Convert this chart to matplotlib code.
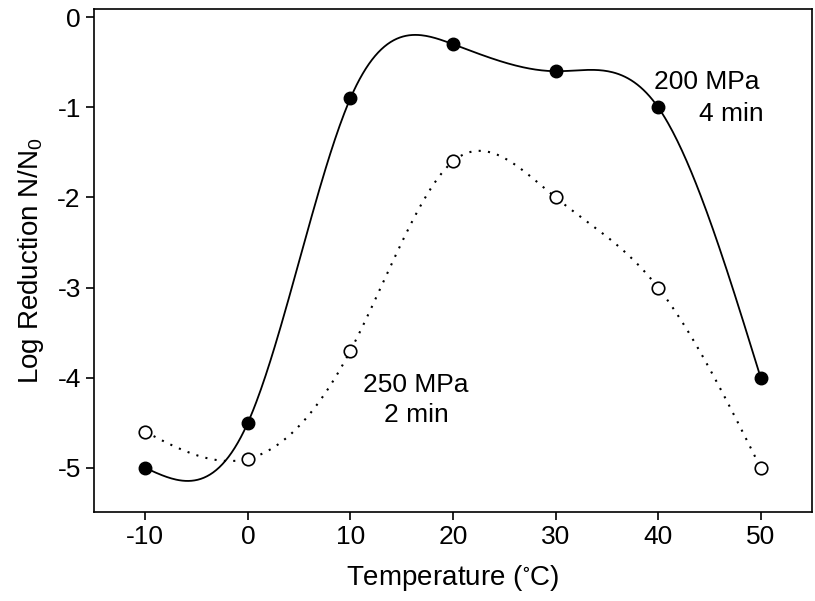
import numpy as np
import matplotlib.pyplot as plt
import matplotlib as mpl

mpl.rcParams['font.family'] = ['Liberation Sans', 'DejaVu Sans']
mpl.rcParams['mathtext.fontset'] = 'custom'
mpl.rcParams['mathtext.rm'] = 'Liberation Sans'
mpl.rcParams['mathtext.it'] = 'Liberation Sans'
mpl.rcParams['mathtext.default'] = 'regular'

temp = [-10, 0, 10, 20, 30, 40, 50]
mpa200 = [-5.0, -4.5, -0.9, -0.3, -0.6, -1.0, -4.0]
mpa250 = [-4.6, -4.9, -3.7, -1.6, -2.0, -3.0, -5.0]


def natural_spline(x, y, n=400):
    # plain natural cubic spline through the points
    x = np.asarray(x, float)
    y = np.asarray(y, float)
    k = len(x)
    h = np.diff(x)
    A = np.zeros((k, k))
    b = np.zeros(k)
    A[0, 0] = 1
    A[-1, -1] = 1
    for i in range(1, k - 1):
        A[i, i - 1] = h[i - 1]
        A[i, i] = 2 * (h[i - 1] + h[i])
        A[i, i + 1] = h[i]
        b[i] = 3 * ((y[i + 1] - y[i]) / h[i] - (y[i] - y[i - 1]) / h[i - 1])
    c = np.linalg.solve(A, b)
    xs = np.linspace(x[0], x[-1], n)
    idx = np.clip(np.searchsorted(x, xs) - 1, 0, k - 2)
    dx = xs - x[idx]
    hi = h[idx]
    bb = (y[idx + 1] - y[idx]) / hi - hi * (2 * c[idx] + c[idx + 1]) / 3
    d = (c[idx + 1] - c[idx]) / (3 * hi)
    ys = y[idx] + bb * dx + c[idx] * dx ** 2 + d * dx ** 3
    return xs, ys


fig = plt.figure(figsize=(8.15, 6.01), dpi=100)
ax = fig.add_axes([0.1153, 0.148, 0.881, 0.837])

xs, ys = natural_spline(temp, mpa200)
ax.plot(xs, ys, color='black', lw=1.3)
xs, ys = natural_spline(temp, mpa250)
ax.plot(xs, ys, color='black', lw=1.5, ls=(0, (1, 3.5)))

ax.plot(temp, mpa250, 'o', ms=9, mfc='white', mec='black', mew=1.2)
ax.plot(temp, mpa200, 'o', ms=9, mfc='black', mec='black')

ax.text(49.9, -0.72, '200 MPa', fontsize=19, ha='right', va='center')
ax.text(50.3, -1.07, '4 min', fontsize=19, ha='right', va='center')
ax.text(16.4, -4.08, '250 MPa', fontsize=19, ha='center', va='center')
ax.text(16.4, -4.41, '2 min', fontsize=19, ha='center', va='center')

ax.set_xlim(-15, 55)
ax.set_ylim(-5.49, 0.09)
ax.set_xticks(temp)
ax.set_xticklabels([str(t) for t in temp])
ax.set_yticks([0, -1, -2, -3, -4, -5])
ax.set_yticklabels(['0', '-1', '-2', '-3', '-4', '-5'])
ax.tick_params(labelsize=19, length=6, width=1.2, direction='out')
for s in ax.spines.values():
    s.set_linewidth(1.2)

ax.set_xlabel('Temperature ($^{\\circ}$C)', fontsize=20, labelpad=10)
ax.set_ylabel('Log Reduction N/N$_0$', fontsize=20, labelpad=8)

plt.savefig('out.png', dpi=100)
